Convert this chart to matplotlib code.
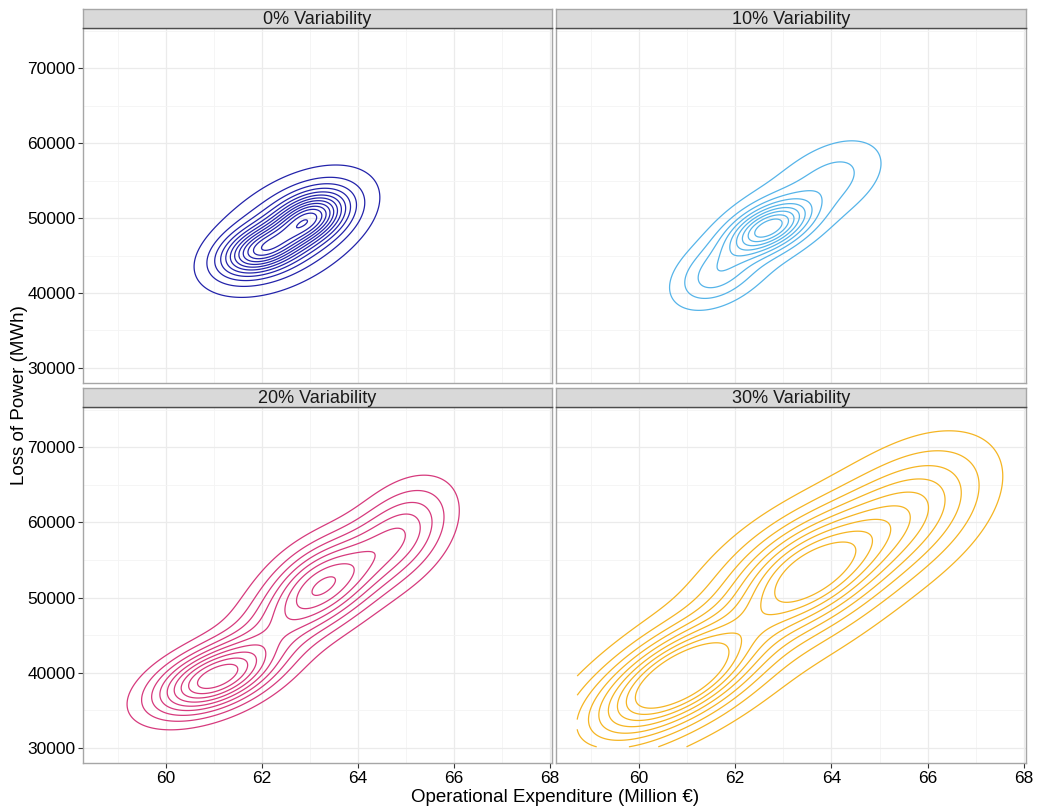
import matplotlib
matplotlib.use("Agg")
import matplotlib.pyplot as plt
import numpy as np

plt.rcParams["font.family"] = ["Liberation Sans", "DejaVu Sans"]

###############################################################################
# Data: each panel's 2-D density, read off the picture as a mixture of
# gaussian bumps (centre x, centre y, sd x, sd y, correlation, weight)
#
panel_titles = ["0% Variability", "10% Variability", "20% Variability", "30% Variability"]
panel_colors = ["#2323AA", "#56B4E9", "#D63A7D", "#F5B523"]

bump_x = [
    [62.0, 63.0, 62.6],
    [62.7, 61.6, 64.1, 62.7],
    [63.3, 61.0, 64.9, 62.2],
    [63.5, 61.0, 65.6, 59.7, 62.8],
]
bump_y = [
    [45800, 50000, 48300],
    [48700, 42500, 55500, 49000],
    [51800, 39200, 58500, 45500],
    [53000, 40000, 61500, 34500, 48500],
]
bump_sx = [
    [0.55, 0.5, 1.1],
    [0.55, 0.6, 0.75, 1.0],
    [0.8, 0.85, 0.7, 0.8],
    [1.1, 1.0, 1.1, 1.0, 2.1],
]
bump_sy = [
    [2200, 2300, 5300],
    [2300, 3000, 3800, 5500],
    [4200, 3200, 4500, 4000],
    [5500, 4500, 6000, 4500, 10500],
]
bump_rho = [
    [0.4, 0.4, 0.5],
    [0.5, 0.4, 0.4, 0.45],
    [0.45, 0.5, 0.4, 0.5],
    [0.5, 0.5, 0.45, 0.45, 0.55],
]
bump_w = [
    [0.25, 0.25, 0.5],
    [0.35, 0.2, 0.2, 0.25],
    [0.35, 0.35, 0.2, 0.1],
    [0.32, 0.26, 0.18, 0.1, 0.14],
]
contour_count = [13, 9, 9, 9]
top_level = [0.99, 0.9, 0.9, 0.75]   # highest contour as share of the peak

# range of the observations in each panel (density grid is only evaluated there)
data_x_range = [(58.72, 67.6)] * 4
data_y_range = [(30146, 73200)] * 4

x_ticks = [60, 62, 64, 66, 68]
y_ticks = [30000, 40000, 50000, 60000, 70000]
x_lim = (58.28, 68.04)
y_lim = (27993, 75351)


def mixture_density(gx, gy, k):
    z = np.zeros_like(gx)
    for mx, my, sx, sy, r, w in zip(bump_x[k], bump_y[k], bump_sx[k],
                                    bump_sy[k], bump_rho[k], bump_w[k]):
        u = (gx - mx) / sx
        v = (gy - my) / sy
        q = (u * u - 2 * r * u * v + v * v) / (1 - r * r)
        z += w * np.exp(-0.5 * q) / (2 * np.pi * sx * sy * np.sqrt(1 - r * r))
    return z


###############################################################################
# Figure
#
W, H = 1037, 810
fig = plt.figure(figsize=(W / 100, H / 100), dpi=100)

col_left = [83, 556]
col_right = [552, 1026]
row_top = [28, 407]
row_bottom = [383, 763]
strip_h = 19

for k in range(4):
    row, col = divmod(k, 2)
    x0, x1 = col_left[col], col_right[col]
    y0, y1 = row_top[row], row_bottom[row]
    ax = fig.add_axes([x0 / W, 1 - y1 / H, (x1 - x0) / W, (y1 - y0) / H])

    gx, gy = np.meshgrid(np.linspace(*data_x_range[k], 300),
                         np.linspace(*data_y_range[k], 300))
    z = mixture_density(gx, gy, k)
    n = contour_count[k]
    levels = np.arange(1, n + 1) * z.max() * top_level[k] / n
    ax.contour(gx, gy, z, levels=levels, colors=panel_colors[k], linewidths=0.9)

    ax.set_xlim(*x_lim)
    ax.set_ylim(*y_lim)
    ax.set_xticks(x_ticks)
    ax.set_yticks(y_ticks)
    ax.set_xticks([59, 61, 63, 65, 67], minor=True)
    ax.set_yticks([35000, 45000, 55000, 65000, 75000], minor=True)
    ax.grid(True, which="major", color="#EBEBEB", lw=0.9)
    ax.grid(True, which="minor", color="#F4F4F4", lw=0.6)
    ax.set_axisbelow(True)
    ax.tick_params(which="minor", length=0)
    ax.tick_params(which="major", length=3.5, width=0.8, color="#333333",
                   labelsize=12.5, labelcolor="black", pad=2)
    if col == 1:
        ax.tick_params(axis="y", left=False, labelleft=False)
    if row == 0:
        ax.tick_params(axis="x", bottom=False, labelbottom=False)
    for s in ax.spines.values():
        s.set_color("#A6A6A6")
        s.set_linewidth(1.0)

    # facet strip
    sax = fig.add_axes([x0 / W, 1 - (y0) / H, (x1 - x0) / W, strip_h / H])
    sax.set_facecolor("#D9D9D9")
    sax.set_xticks([])
    sax.set_yticks([])
    for s in sax.spines.values():
        s.set_color("#A6A6A6")
        s.set_linewidth(1.0)
    sax.spines["bottom"].set_color("#4D4D4D")
    sax.text(0.5, 0.45, panel_titles[k], ha="center", va="center",
             fontsize=13, color="#1A1A1A", transform=sax.transAxes)

fig.text(555 / W, 1 - 797 / H, "Operational Expenditure (Million €)",
         ha="center", va="center", fontsize=13.5)
fig.text(20 / W, 1 - 395 / H, "Loss of Power (MWh)", ha="center",
         va="center", rotation=90, fontsize=13.5)

fig.savefig("out.png", dpi=100)
